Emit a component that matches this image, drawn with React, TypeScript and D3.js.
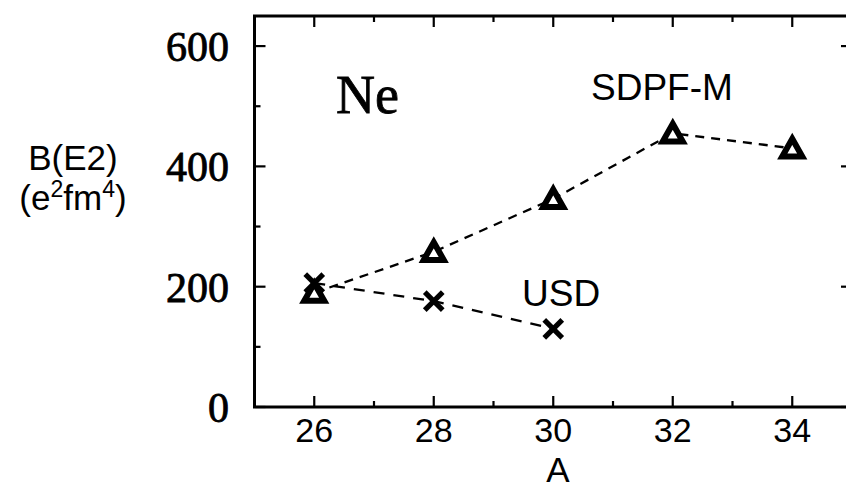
import React from "react";
import * as d3 from "d3";

// Mass numbers and B(E2) values for the Ne isotopes
const massNumbers = [26, 28, 30, 32, 34];
const sdpfmValues = [190, 258, 346, 455, 430];
const usdMass = [26, 28, 30];
const usdValues = [206, 176, 130];

const xTickValues = [26, 28, 30, 32, 34];
const xMinorTicks = [25, 27, 29, 31, 33, 35];
const yTickValues = [0, 200, 400, 600];
const yMinorTicks = [100, 300, 500];

const W = 846;
const H = 491;

const x = d3.scaleLinear().domain([25, 35]).range([254.5, 852]);
const y = d3.scaleLinear().domain([0, 650]).range([407, 16]);

const serif = "'Liberation Serif', 'Times New Roman', serif";
const sans = "'Liberation Sans', Arial, Helvetica, sans-serif";

function Triangle({ cx, cy }: { cx: number; cy: number }) {
  const s = 9.5;
  const pts = [
    [cx, cy - s],
    [cx + s * 1.05, cy + s * 0.85],
    [cx - s * 1.05, cy + s * 0.85],
  ]
    .map((p) => p.join(","))
    .join(" ");
  return <polygon points={pts} fill="white" stroke="black" strokeWidth={6} strokeLinejoin="miter" />;
}

function Cross({ cx, cy }: { cx: number; cy: number }) {
  const s = 9;
  return (
    <g stroke="black" strokeWidth={5.2} strokeLinecap="butt">
      <line x1={cx - s} y1={cy - s} x2={cx + s} y2={cy + s} />
      <line x1={cx - s} y1={cy + s} x2={cx + s} y2={cy - s} />
    </g>
  );
}

export default function App() {
  const line = d3
    .line<[number, number]>()
    .x((d) => x(d[0]))
    .y((d) => y(d[1]));

  const sdpfm: [number, number][] = massNumbers.map((a, i) => [a, sdpfmValues[i]]);
  const usd: [number, number][] = usdMass.map((a, i) => [a, usdValues[i]]);

  const [x0, x1] = x.range();
  const [y0, y1] = y.range();

  return (
    <div style={{ position: "absolute", left: 0, top: 0 }}>
      <svg width={W} height={H} style={{ display: "block", background: "white" }}>
        {/* x ticks on bottom and top, pointing inward */}
        {xTickValues.map((v) => (
          <g key={"xt" + v} stroke="black" strokeWidth={2.2}>
            <line x1={x(v)} x2={x(v)} y1={y0} y2={y0 - 11} />
            <line x1={x(v)} x2={x(v)} y1={y1} y2={y1 + 11} />
          </g>
        ))}
        {xMinorTicks.map((v) => (
          <g key={"xm" + v} stroke="black" strokeWidth={2.2}>
            <line x1={x(v)} x2={x(v)} y1={y0} y2={y0 - 6} />
            <line x1={x(v)} x2={x(v)} y1={y1} y2={y1 + 6} />
          </g>
        ))}
        {/* y ticks on left and right */}
        {yTickValues.map((v) => (
          <g key={"yt" + v} stroke="black" strokeWidth={2.2}>
            <line x1={x0} x2={x0 + 11} y1={y(v)} y2={y(v)} />
            <line x1={x1} x2={x1 - 11} y1={y(v)} y2={y(v)} />
          </g>
        ))}
        {yMinorTicks.map((v) => (
          <g key={"ym" + v} stroke="black" strokeWidth={2.2}>
            <line x1={x0} x2={x0 + 6} y1={y(v)} y2={y(v)} />
            <line x1={x1} x2={x1 - 6} y1={y(v)} y2={y(v)} />
          </g>
        ))}

        {/* frame */}
        <rect x={x0} y={y1} width={x1 - x0} height={y0 - y1} fill="none" stroke="black" strokeWidth={3} />

        {/* tick labels */}
        {xTickValues.map((v) => (
          <text key={"xl" + v} x={x(v)} y={442} textAnchor="middle" fontFamily={sans} fontSize={34}>
            {v}
          </text>
        ))}
        {yTickValues.map((v) => (
          <text
            key={"yl" + v}
            x={229}
            y={y(v) + 15}
            textAnchor="end"
            fontFamily={serif}
            fontSize={42}
            stroke="black"
            strokeWidth={0.8}
          >
            {v}
          </text>
        ))}

        {/* axis titles */}
        <text x={558} y={482} textAnchor="middle" fontFamily={sans} fontSize={35}>
          A
        </text>
        <text x={73} y={170} textAnchor="middle" fontFamily={sans} fontSize={35}>
          B(E2)
        </text>
        <text x={73} y={210} textAnchor="middle" fontFamily={sans} fontSize={35}>
          (e<tspan fontSize={23} dy={-13}>2</tspan>
          <tspan dy={13}>fm</tspan>
          <tspan fontSize={23} dy={-13}>4</tspan>
          <tspan dy={13}>)</tspan>
        </text>

        {/* series lines */}
        <path d={line(sdpfm) ?? ""} fill="none" stroke="black" strokeWidth={2.3} strokeDasharray="9,7" />
        <path d={line(usd) ?? ""} fill="none" stroke="black" strokeWidth={2.3} strokeDasharray="11,9" />

        {/* markers */}
        {sdpfm.map((d) => (
          <Triangle key={"tr" + d[0]} cx={x(d[0])} cy={y(d[1])} />
        ))}
        {usd.map((d) => (
          <Cross key={"cr" + d[0]} cx={x(d[0])} cy={y(d[1])} />
        ))}

        {/* annotations */}
        <text x={336} y={113} fontFamily={serif} fontSize={54} stroke="black" strokeWidth={0.8}>
          Ne
        </text>
        <text x={591} y={100} fontFamily={sans} fontSize={37}>
          SDPF-M
        </text>
        <text x={522} y={306} fontFamily={sans} fontSize={37}>
          USD
        </text>
      </svg>
    </div>
  );
}
